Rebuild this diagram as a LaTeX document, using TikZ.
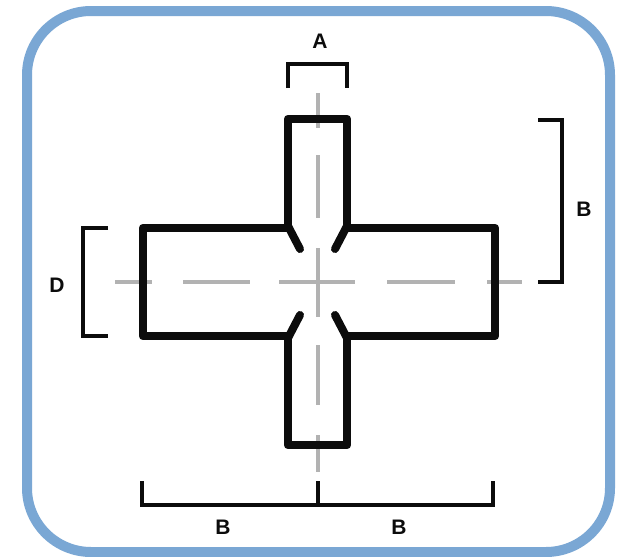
\documentclass[tikz,border=0pt]{standalone}
\usepackage{fontspec}
\setmainfont{Liberation Sans}
\definecolor{frameblue}{RGB}{122,167,212}
\definecolor{axisgray}{RGB}{178,178,178}
\definecolor{inkblack}{RGB}{12,12,12}
\tikzset{
  frameline/.style={draw=frameblue,line width=10pt,rounded corners=64pt},
  outline/.style={draw=inkblack,line width=8.5pt,line join=round,line cap=round},
  notch/.style={draw=inkblack,line width=8pt,line cap=round},
  axis/.style={draw=axisgray,line width=3.2pt},
  dimline/.style={draw=inkblack,line width=3.6pt,line join=miter},
  dimlabel/.style={font=\fontsize{21}{21}\selectfont\bfseries,text=inkblack,inner sep=0pt}
}
\begin{document}
\begin{tikzpicture}[x=1pt,y=-1pt]
\useasboundingbox (0,0) rectangle (619,557);
\fill[white] (0,0) rectangle (619,557);
\draw[frameline] (27,11) rectangle (610,552);
% axes
\foreach \a/\b in {115/152,183/250,279/355,387/455,487/522} \draw[axis] (\a,282) -- (\b,282);
\foreach \a/\b in {93/128,155/218,248/317,345/405,435/472} \draw[axis] (318,\a) -- (318,\b);
% cross outline
\draw[outline] (288,228) -- (288,119) -- (347,119) -- (347,228) -- (495,228) -- (495,336) -- (347,336) -- (347,445) -- (288,445) -- (288,336) -- (143,336) -- (143,228) -- cycle;
\draw[notch] (288,226) -- (300,249);
\draw[notch] (347,226) -- (335,249);
\draw[notch] (288,338) -- (300,315);
\draw[notch] (347,338) -- (335,315);
% dimensions
\draw[dimline] (288,88) -- (288,64) -- (347,64) -- (347,88);
\draw[dimline] (538,120) -- (562,120) -- (562,282) -- (538,282);
\draw[dimline] (108,228) -- (83,228) -- (83,336) -- (108,336);
\draw[dimline] (142,481) -- (142,505) -- (493,505) -- (493,481);
\draw[dimline] (318,481) -- (318,505);
\node[dimlabel] (labelA) at (320,41) {A};
\node[dimlabel] (labelBr) at (584,209) {B};
\node[dimlabel] (labelD) at (57,285) {D};
\node[dimlabel] (labelBl) at (223,527) {B};
\node[dimlabel] (labelBb) at (399,527) {B};
\end{tikzpicture}
\end{document}
